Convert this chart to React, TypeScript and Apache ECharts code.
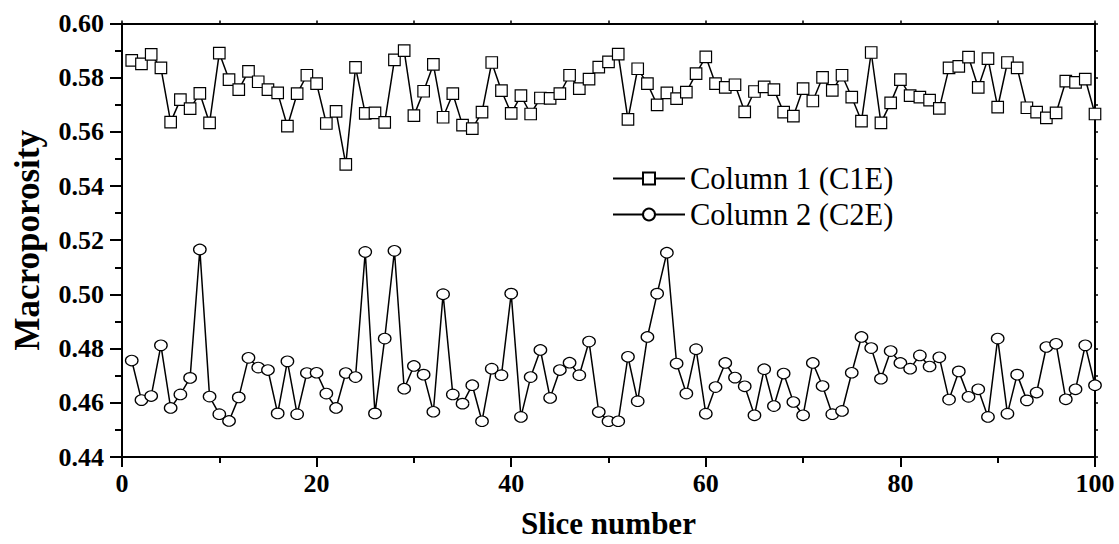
import React, { useEffect, useRef } from "react";
import * as echarts from "echarts";

const sliceNumbers = [
  1, 2, 3, 4, 5, 6, 7, 8, 9, 10, 11, 12, 13, 14, 15, 16, 17, 18, 19, 20,
  21, 22, 23, 24, 25, 26, 27, 28, 29, 30, 31, 32, 33, 34, 35, 36, 37, 38, 39, 40,
  41, 42, 43, 44, 45, 46, 47, 48, 49, 50, 51, 52, 53, 54, 55, 56, 57, 58, 59, 60,
  61, 62, 63, 64, 65, 66, 67, 68, 69, 70, 71, 72, 73, 74, 75, 76, 77, 78, 79, 80,
  81, 82, 83, 84, 85, 86, 87, 88, 89, 90, 91, 92, 93, 94, 95, 96, 97, 98, 99, 100,
];

const column1 = [
  0.5864, 0.5851, 0.5886, 0.5836, 0.5636, 0.5719, 0.5686, 0.5742, 0.5633, 0.5891,
  0.5793, 0.5756, 0.5823, 0.5785, 0.5756, 0.5744, 0.5621, 0.5741, 0.5809, 0.5778,
  0.5631, 0.5676, 0.548, 0.5838, 0.5668, 0.567, 0.5635, 0.5866, 0.59, 0.566,
  0.575, 0.5849, 0.5654, 0.5741, 0.5625, 0.5612, 0.5673, 0.5856, 0.5752, 0.5668,
  0.5734, 0.5666, 0.5725, 0.5724, 0.5741, 0.5809, 0.576, 0.5795, 0.5839, 0.5858,
  0.5887, 0.5646, 0.5833, 0.5778, 0.57, 0.5744, 0.5723, 0.5747, 0.5815, 0.5877,
  0.5778, 0.5764, 0.5774, 0.5674, 0.5749, 0.5766, 0.5756, 0.5673, 0.5658, 0.576,
  0.5714, 0.5801, 0.5753, 0.5809, 0.5728, 0.564, 0.5893, 0.5633, 0.5707, 0.5793,
  0.5734, 0.5728, 0.5717, 0.5687, 0.5836, 0.5842, 0.5876, 0.5764, 0.587, 0.5691,
  0.5856, 0.5836, 0.5689, 0.5673, 0.5652, 0.567, 0.5787, 0.5783, 0.5795, 0.5666,
];

const column2 = [
  0.4756, 0.461, 0.4625, 0.4812, 0.4581, 0.4631, 0.4692, 0.5166, 0.4623, 0.4558,
  0.4533, 0.462, 0.4766, 0.473, 0.4721, 0.4561, 0.4753, 0.4558, 0.471, 0.4711,
  0.4634, 0.4581, 0.471, 0.4695, 0.5157, 0.4561, 0.4837, 0.5161, 0.4652, 0.4736,
  0.4704, 0.4567, 0.5001, 0.4631, 0.4597, 0.4665, 0.4532, 0.4726, 0.4702, 0.5003,
  0.4548, 0.4695, 0.4795, 0.4618, 0.4721, 0.4748, 0.4702, 0.4826, 0.4566, 0.4532,
  0.4532, 0.477, 0.4606, 0.4843, 0.5003, 0.5154, 0.4745, 0.4634, 0.4798, 0.456,
  0.4658, 0.4747, 0.4693, 0.4661, 0.4554, 0.4724, 0.4588, 0.4708, 0.4603, 0.4554,
  0.4747, 0.4662, 0.4558, 0.457, 0.4711, 0.4843, 0.4802, 0.4689, 0.4791, 0.4747,
  0.4726, 0.4775, 0.4734, 0.4768, 0.4612, 0.4716, 0.4622, 0.465, 0.4548, 0.4837,
  0.456, 0.4704, 0.4609, 0.4638, 0.4806, 0.4818, 0.4613, 0.465, 0.4812, 0.4665,
];

const seriesNames = ["Column 1 (C1E)", "Column 2 (C2E)"];
const xTitle = "Slice number";
const yTitle = "Macroporosity";

const FONT = "'Liberation Serif', 'Times New Roman', serif";

export default function App() {
  const ref = useRef<HTMLDivElement>(null);

  useEffect(() => {
    if (!ref.current) return;
    const chart = echarts.init(ref.current, null, { renderer: "svg" });
    const pairs = (vals: number[]) => vals.map((v, i) => [sliceNumbers[i], v]);

    const axisLineStyle = { color: "#000", width: 2 };

    chart.setOption({
      animation: false,
      backgroundColor: "#fff",
      grid: { left: 122, right: 24, top: 23.5, bottom: 86, containLabel: false },
      legend: {
        orient: "vertical",
        left: 607,
        top: 158,
        itemWidth: 72,
        itemHeight: 15,
        itemGap: 5,
        textStyle: { fontFamily: FONT, fontSize: 30.5, color: "#000" },
        data: seriesNames,
      },
      xAxis: [
        {
          type: "value",
          min: 0,
          max: 100,
          interval: 20,
          name: xTitle,
          nameLocation: "middle",
          nameGap: 51,
          nameTextStyle: { fontFamily: FONT, fontSize: 31, fontWeight: "bold", color: "#000" },
          axisLine: { show: true, onZero: false, lineStyle: axisLineStyle },
          axisTick: { show: true, inside: false, length: 10, lineStyle: { color: "#000", width: 2 } },
          minorTick: { show: true, splitNumber: 2, length: 6, lineStyle: { color: "#000", width: 2 } },
          axisLabel: { margin: 13, fontFamily: FONT, fontSize: 26, fontWeight: "bold", color: "#000" },
          splitLine: { show: false },
          minorSplitLine: { show: false },
        },
        {
          type: "value",
          position: "top",
          min: 0,
          max: 100,
          interval: 20,
          axisLine: { show: true, onZero: false, lineStyle: axisLineStyle },
          axisTick: { show: true, inside: false, length: 3, lineStyle: { color: "#000", width: 1.5 } },
          minorTick: { show: true, splitNumber: 2, length: 3, lineStyle: { color: "#000", width: 1.5 } },
          axisLabel: { show: false },
          splitLine: { show: false },
        },
      ],
      yAxis: [
        {
          type: "value",
          min: 0.44,
          max: 0.6,
          interval: 0.02,
          name: yTitle,
          nameLocation: "middle",
          nameRotate: 90,
          nameGap: 77,
          nameTextStyle: { fontFamily: FONT, fontSize: 35, fontWeight: "bold", color: "#000" },
          axisLine: { show: true, onZero: false, lineStyle: axisLineStyle },
          axisTick: { show: true, inside: false, length: 12, lineStyle: { color: "#000", width: 2 } },
          minorTick: { show: true, splitNumber: 2, length: 7, lineStyle: { color: "#000", width: 2 } },
          axisLabel: {
            margin: 18,
            fontFamily: FONT,
            fontSize: 26,
            fontWeight: "bold",
            color: "#000",
            formatter: (v: number) => v.toFixed(2),
          },
          splitLine: { show: false },
          minorSplitLine: { show: false },
        },
        {
          type: "value",
          position: "right",
          min: 0.44,
          max: 0.6,
          interval: 0.02,
          axisLine: { show: true, onZero: false, lineStyle: axisLineStyle },
          axisTick: { show: true, inside: false, length: 3, lineStyle: { color: "#000", width: 1.5 } },
          minorTick: { show: true, splitNumber: 2, length: 3, lineStyle: { color: "#000", width: 1.5 } },
          axisLabel: { show: false },
          splitLine: { show: false },
        },
      ],
      series: [
        {
          name: seriesNames[0],
          type: "line",
          data: pairs(column1),
          symbol: "rect",
          symbolSize: 11.5,
          showAllSymbol: true,
          lineStyle: { color: "#000", width: 1.5 },
          itemStyle: { color: "#fff", borderColor: "#000", borderWidth: 1.2 },
          emphasis: { disabled: true },
          z: 3,
        },
        {
          name: seriesNames[1],
          type: "line",
          data: pairs(column2),
          symbol: "circle",
          symbolSize: [12.5, 10.5],
          showAllSymbol: true,
          lineStyle: { color: "#000", width: 1.5 },
          itemStyle: { color: "#fff", borderColor: "#000", borderWidth: 1.2 },
          emphasis: { disabled: true },
          z: 3,
        },
      ],
    });

    return () => chart.dispose();
  }, []);

  return (
    <div
      ref={ref}
      style={{ position: "fixed", left: 0, top: 0, width: 1119, height: 544, background: "#fff" }}
    />
  );
}
